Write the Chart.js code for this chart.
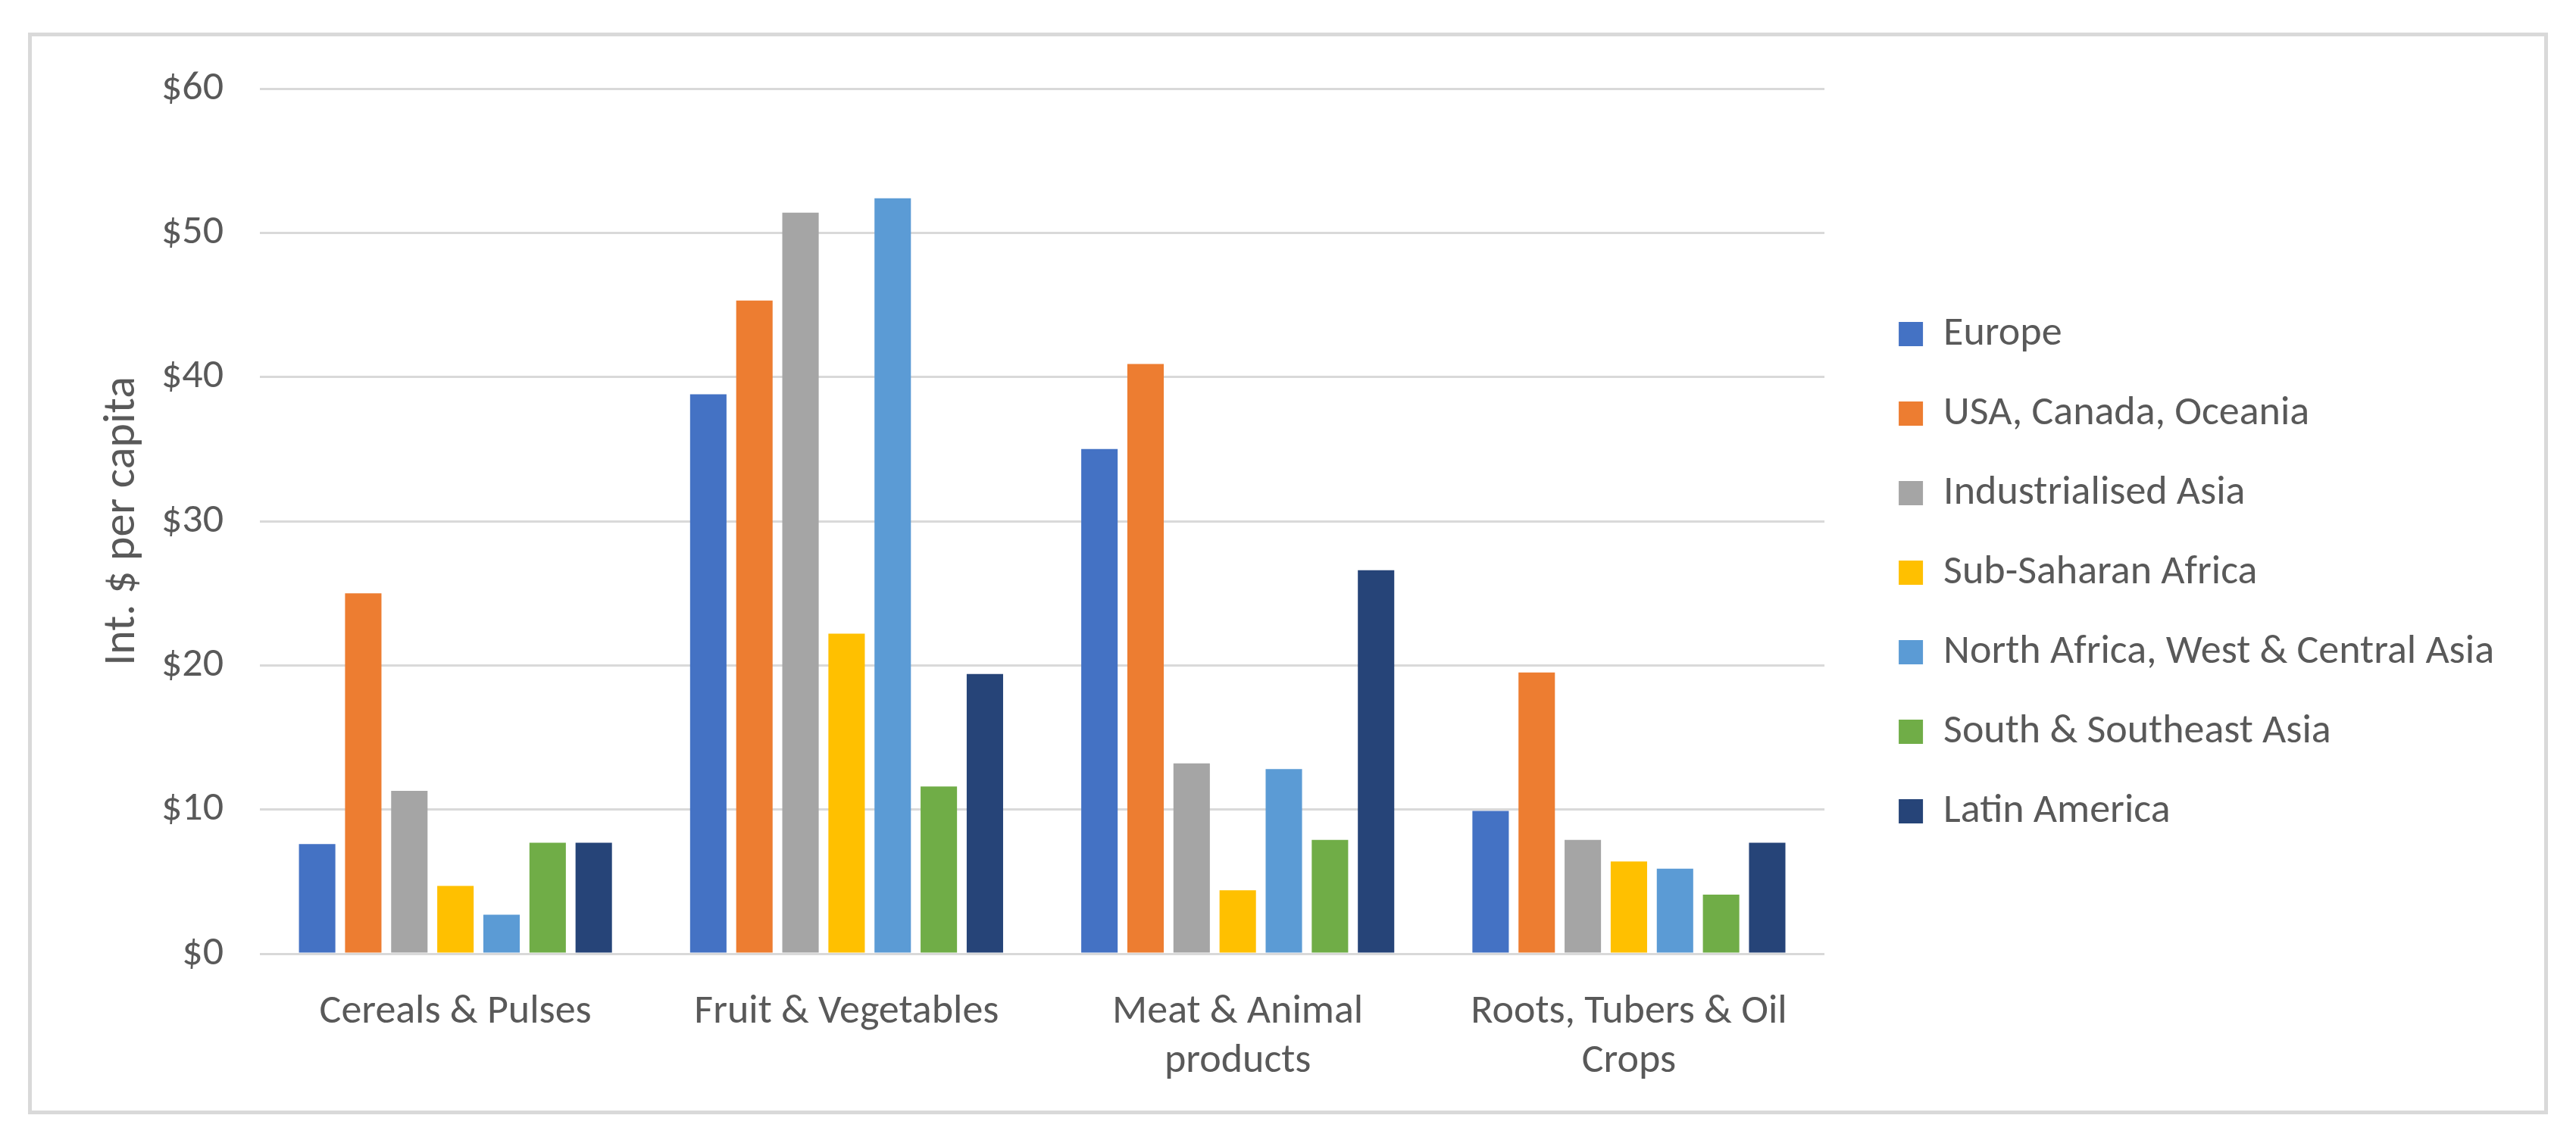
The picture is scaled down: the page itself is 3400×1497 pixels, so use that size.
<!DOCTYPE html>
<html>
<head>
<meta charset="utf-8">
<title>Int. $ per capita by food group</title>
<script src="https://cdn.jsdelivr.net/npm/chart.js@4/dist/chart.umd.min.js"></script>
<style>
  html, body { margin: 0; padding: 0; background: #fff; }
  #wrap { position: relative; width: 3400px; height: 1497px; }
  #frame { position: absolute; left: 37px; top: 43px; width: 3316px; height: 1418px; border: 5px solid #d9d9d9; pointer-events: none; }
  canvas { position: absolute; left: 0; top: 0; }
</style>
</head>
<body>
<div id="wrap">
  <canvas id="chartFood"></canvas>
  <div id="frame"></div>
</div>
<script>
// === DATA ===
const categories = ['Cereals & Pulses', 'Fruit & Vegetables', ['Meat & Animal', 'products'], ['Roots, Tubers & Oil', 'Crops']];
const regions = ['Europe', 'USA, Canada, Oceania', 'Industrialised Asia', 'Sub-Saharan Africa',
  'North Africa, West & Central Asia', 'South & Southeast Asia', 'Latin America'];
const europe = [7.6, 38.8, 35.0, 9.9];
const usaCanadaOceania = [25.0, 45.3, 40.9, 19.5];
const industrialisedAsia = [11.3, 51.4, 13.2, 7.9];
const subSaharanAfrica = [4.7, 22.2, 4.4, 6.4];
const northAfricaWestCentralAsia = [2.7, 52.4, 12.8, 5.9];
const southSoutheastAsia = [7.7, 11.6, 7.9, 4.1];
const latinAmerica = [7.7, 19.4, 26.6, 7.7];
const yMin = 0;
const yMax = 60;
const yStep = 10;
const yTitle = 'Int. $ per capita';

// === STYLE / LAYOUT ===
const colours = ['#4472C4', '#ED7D31', '#A5A5A5', '#FFC000', '#5B9BD5', '#70AD47', '#264478'];
const FONT = 'Carlito, Calibri, Lato, sans-serif';
const TEXT = '#595959';
const GRID = '#d9d9d9';
const FS = 54;
const TITLE_FS = 60;
const W = 3400, H = 1497;
const PLOT_LEFT = 343, PLOT_TOP = 117, PLOT_RIGHT = 2406, PLOT_BOTTOM = 1259;
const PAD_LEFT = 126;
const LEGEND_PAD = 51;
const LEGEND_BOX = 32;
const LEGEND_GAP = 47;          // space between plot and legend block
const LEGEND_FIRST_Y = 441;     // centre of first legend entry

// === LEGEND WIDTH (to keep the plot right edge fixed) ===
function legendWidth() {
  const c = document.createElement('canvas').getContext('2d');
  c.font = `${FS}px ${FONT}`;
  const maxText = Math.max(...regions.map(r => c.measureText(r).width));
  return LEGEND_PAD + LEGEND_BOX + FS / 2 + maxText + 10;
}
const padRight = Math.max(0, Math.floor(W - PLOT_RIGHT - LEGEND_GAP - legendWidth()) - 2);
const legendTitleH = LEGEND_FIRST_Y - PLOT_TOP - LEGEND_PAD - FS / 2;

// === BUILD CHART ===
const seriesValues = [europe, usaCanadaOceania, industrialisedAsia, subSaharanAfrica,
  northAfricaWestCentralAsia, southSoutheastAsia, latinAmerica];

const datasets = regions.map((name, i) => ({
  label: name,
  data: seriesValues[i],
  backgroundColor: colours[i],
  borderWidth: 0,
  categoryPercentage: 0.825,
  barPercentage: 0.79
}));

const ctx = document.getElementById('chartFood').getContext('2d');
const chart = new Chart(ctx, {
  type: 'bar',
  data: { labels: categories, datasets: datasets },
  options: {
    responsive: true,
    maintainAspectRatio: false,
    animation: false,
    devicePixelRatio: 1,
    layout: { padding: { left: PAD_LEFT, top: PLOT_TOP, right: padRight, bottom: 0 } },
    plugins: {
      tooltip: { enabled: false },
      legend: {
        position: 'right',
        align: 'start',
        maxWidth: 1400,
        title: {
          display: true,
          text: ' ',
          font: { size: 10, lineHeight: 1 },
          padding: { top: legendTitleH - 10, bottom: 0 }
        },
        labels: {
          color: TEXT,
          font: { family: FONT, size: FS },
          boxWidth: LEGEND_BOX,
          boxHeight: LEGEND_BOX,
          padding: LEGEND_PAD
        }
      }
    },
    scales: {
      x: {
        grid: { display: false },
        border: { display: false },
        ticks: {
          color: TEXT,
          font: { family: FONT, size: FS, lineHeight: 1.2 },
          padding: 37,
          maxRotation: 0,
          autoSkip: false
        },
        afterFit: s => { s.height = H - PLOT_BOTTOM; }
      },
      y: {
        min: yMin,
        max: yMax,
        grid: { color: GRID, lineWidth: 3, drawTicks: false },
        border: { display: false },
        ticks: {
          stepSize: yStep,
          color: TEXT,
          font: { family: FONT, size: FS },
          padding: 48,
          callback: v => '$' + v
        },
        title: {
          display: true,
          text: yTitle,
          color: TEXT,
          font: { family: FONT, size: TITLE_FS },
          padding: 0
        },
        afterFit: s => { s.width = PLOT_LEFT - PAD_LEFT; }
      },
      gap: {
        type: 'linear',
        position: 'right',
        display: false,
        afterFit: s => { s.width = LEGEND_GAP; }
      }
    }
  }
});
</script>
</body>
</html>
